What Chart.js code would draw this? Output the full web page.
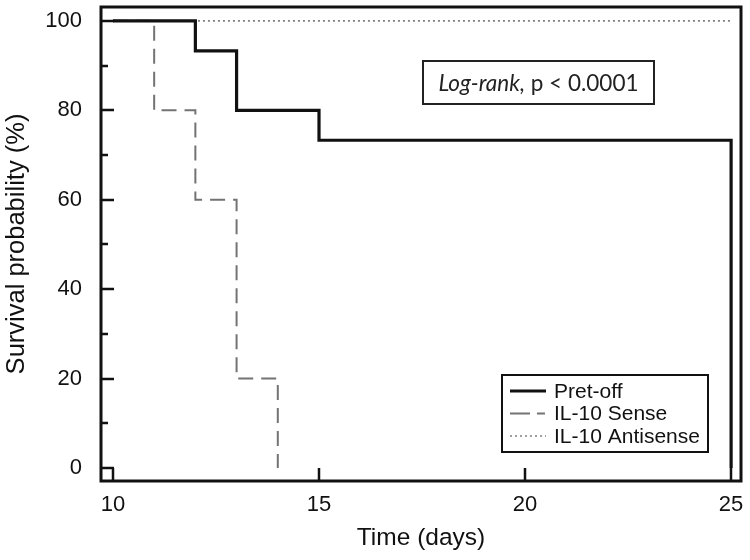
<!DOCTYPE html>
<html>
<head>
<meta charset="utf-8">
<script src="https://cdn.jsdelivr.net/npm/chart.js@4/dist/chart.umd.min.js"></script>
<style>
  html, body { margin: 0; padding: 0; background: #fff; }
  canvas { display: block; }
</style>
</head>
<body>
<canvas id="survivalChart" width="750" height="560"></canvas>
<script>
// Kaplan-Meier steps (days, survival %)
const pretDays = [10, 12, 13, 15, 25]
const pretSurvival = [100, 93.3, 80, 73.3, 0]
const senseDays = [10, 11, 12, 13, 14]
const senseSurvival = [100, 80, 60, 20, 0]
const antiDays = [10, 25]
const antiSurvival = [100, 100]

const xTicks = [10, 15, 20, 25]
const yTicks = [0, 20, 40, 60, 80, 100]
const yMinorTicks = [10, 30, 50, 70, 90]

const seriesNames = ['Pret-off', 'IL-10 Sense', 'IL-10 Antisense']
const statText = ['Log-rank,', ' p < 0.0001']

const toPoints = (xs, ys) => xs.map((x, i) => ({ x, y: ys[i] }))

const INK = '#111'
const TICK_FONT = '"Liberation Sans", Arial, sans-serif'

// frame, inward ticks, stats box and legend
const framePlugin = {
  id: 'frame',
  afterDraw(chart) {
    const { ctx, chartArea: a, scales: { x, y } } = chart
    ctx.save()
    ctx.strokeStyle = INK
    ctx.lineWidth = 3
    ctx.strokeRect(a.left, a.top, a.right - a.left, a.bottom - a.top)

    ctx.lineWidth = 2.5
    ctx.beginPath()
    yTicks.forEach(v => {
      const py = Math.round(y.getPixelForValue(v))
      ctx.moveTo(a.left, py); ctx.lineTo(a.left + 13, py)
    })
    yMinorTicks.forEach(v => {
      const py = Math.round(y.getPixelForValue(v))
      ctx.moveTo(a.left, py); ctx.lineTo(a.left + 7, py)
    })
    xTicks.forEach(v => {
      const px = Math.round(x.getPixelForValue(v))
      ctx.moveTo(px, a.bottom); ctx.lineTo(px, a.bottom - 13)
    })
    ctx.stroke()

    // stats annotation
    const bx = a.left + 322, by = a.top + 54, bw = 231, bh = 43
    ctx.lineWidth = 2
    ctx.strokeStyle = '#222'
    ctx.strokeRect(bx, by, bw, bh)
    ctx.fillStyle = '#222'
    ctx.textBaseline = 'middle'
    const italic = 'italic 22.5px Lato, "Open Sans", sans-serif'
    const normal = '22.5px Lato, "Open Sans", sans-serif'
    ctx.font = italic
    const w1 = ctx.measureText(statText[0]).width
    ctx.font = normal
    const w2 = ctx.measureText(statText[1]).width
    const tx = bx + (bw - w1 - w2) / 2
    ctx.font = italic
    ctx.fillText(statText[0], tx, by + bh / 2 + 1)
    ctx.font = normal
    ctx.fillText(statText[1], tx + w1, by + bh / 2 + 1)

    // legend
    const lx = a.left + 401, ly = a.top + 368, lw = 206, lh = 77
    ctx.lineWidth = 2
    ctx.strokeStyle = INK
    ctx.strokeRect(lx, ly, lw, lh)
    ctx.font = '21px ' + TICK_FONT
    chart.data.datasets.forEach((ds, i) => {
      const rowY = ly + 16 + i * 22.5
      ctx.save()
      ctx.strokeStyle = ds.borderColor
      ctx.lineWidth = ds.borderWidth
      ctx.setLineDash(i === 1 ? [20, 7, 8, 100] : (ds.borderDash || []))
      ctx.beginPath()
      ctx.moveTo(lx + 8, rowY); ctx.lineTo(lx + 44, rowY)
      ctx.stroke()
      ctx.restore()
      ctx.fillStyle = INK
      ctx.fillText(ds.label, lx + 52, rowY + 1)
    })
    ctx.restore()
  }
}

new Chart(document.getElementById('survivalChart'), {
  type: 'line',
  data: {
    datasets: [
      {
        label: seriesNames[0],
        data: toPoints(pretDays, pretSurvival),
        stepped: 'before',
        borderColor: '#111',
        borderWidth: 3.2,
        pointRadius: 0,
        fill: false,
      },
      {
        label: seriesNames[1],
        data: toPoints(senseDays, senseSurvival),
        stepped: 'before',
        borderColor: '#737373',
        borderWidth: 2,
        borderDash: [15, 8],
        pointRadius: 0,
        fill: false,
      },
      {
        label: seriesNames[2],
        data: toPoints(antiDays, antiSurvival),
        stepped: 'before',
        borderColor: '#808080',
        borderWidth: 1.6,
        borderDash: [2, 3],
        pointRadius: 0,
        fill: false,
      },
    ],
  },
  options: {
    responsive: false,
    animation: false,
    layout: { padding: { left: 0, top: 7, right: 9, bottom: 0 } },
    plugins: { legend: { display: false }, tooltip: { enabled: false } },
    scales: {
      x: {
        type: 'linear',
        min: 9.71,
        max: 25.24,
        afterBuildTicks: s => { s.ticks = xTicks.map(v => ({ value: v })) },
        afterFit: s => { s.height = 79; s.paddingLeft = 0; s.paddingRight = 0 },
        grid: { display: false, drawTicks: false },
        border: { display: false },
        ticks: { padding: 11, color: INK, font: { family: TICK_FONT, size: 22 } },
        title: {
          display: true,
          text: 'Time (days)',
          color: INK,
          font: { family: TICK_FONT, size: 24.5 },
          padding: { top: 0, bottom: 7 },
        },
      },
      y: {
        min: -2.9,
        max: 103.1,
        afterBuildTicks: s => { s.ticks = yTicks.map(v => ({ value: v })) },
        afterFit: s => { s.width = 101; s.paddingTop = 0; s.paddingBottom = 0 },
        grid: { display: false, drawTicks: false },
        border: { display: false },
        ticks: { padding: 19, color: INK, font: { family: TICK_FONT, size: 22 } },
        title: {
          display: true,
          text: 'Survival probability (%)',
          color: INK,
          font: { family: TICK_FONT, size: 25.5 },
          padding: { top: 2, bottom: 0 },
        },
      },
    },
  },
  plugins: [framePlugin],
})
</script>
</body>
</html>
